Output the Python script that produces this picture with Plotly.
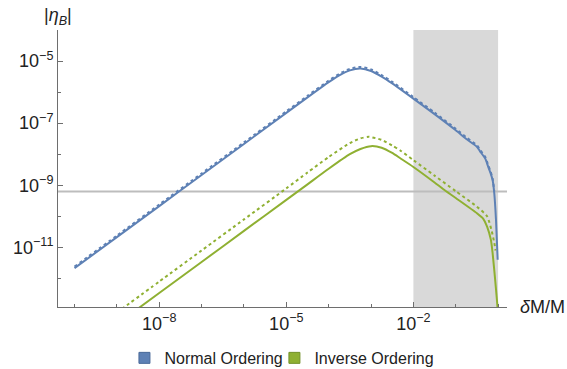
import numpy as np
import plotly.graph_objects as go

# Values (log10 of δM/M, log10 of |η_B|)
no_solid_logx = [-10.0, -9.0, -8.0, -7.0, -6.0, -5.0, -4.5, -4.0, -3.75, -3.5, -3.25, -3.0, -2.75, -2.5,
                 -2.0, -1.5, -1.0, -0.74, -0.5, -0.43, -0.3, -0.235, -0.18, -0.13, -0.09, -0.05, -0.01]
no_solid_logy = [-11.67, -10.67, -9.67, -8.67, -7.67, -6.67, -6.17, -5.68, -5.46, -5.30, -5.24, -5.32, -5.50, -5.72,
                 -6.21, -6.71, -7.23, -7.52, -7.76, -7.90, -8.15, -8.40, -8.60, -8.83, -9.26, -10.11, -11.40]

no_dot_logx = [-10.0, -9.0, -8.0, -7.0, -6.0, -5.0, -4.5, -4.0, -3.75, -3.5, -3.25, -3.0, -2.75, -2.5,
               -2.0, -1.5, -1.0, -0.74, -0.5, -0.43, -0.3, -0.235, -0.18, -0.13, -0.09]
no_dot_logy = [-11.62, -10.62, -9.62, -8.62, -7.62, -6.62, -6.12, -5.63, -5.41, -5.25, -5.19, -5.27, -5.45, -5.67,
               -6.16, -6.66, -7.18, -7.47, -7.71, -7.85, -8.10, -8.35, -8.55, -8.78, -9.20]

io_solid_logx = [-8.6, -8.0, -7.0, -6.0, -5.0, -4.5, -4.0, -3.5, -3.25, -3.0, -2.75, -2.5, -2.31,
                 -2.0, -1.5, -1.3, -1.0, -0.5, -0.35, -0.26, -0.17, -0.13, -0.07, -0.015, -0.005]
io_solid_logy = [-13.07, -12.47, -11.47, -10.47, -9.47, -8.97, -8.47, -8.00, -7.83, -7.74, -7.79, -7.96, -8.13,
                 -8.41, -8.91, -9.12, -9.41, -9.90, -10.08, -10.33, -10.76, -11.18, -12.04, -12.92, -13.30]

io_dot_logx = [-9.0, -8.0, -7.0, -6.0, -5.0, -4.5, -4.0, -3.5, -3.25, -3.05, -2.75, -2.5, -2.31,
               -2.0, -1.5, -1.0, -0.5, -0.26, -0.15, -0.09, -0.06]
io_dot_logy = [-13.10, -12.10, -11.10, -10.10, -9.10, -8.59, -8.09, -7.64, -7.49, -7.44, -7.54, -7.72, -7.88,
               -8.19, -8.69, -9.19, -9.69, -10.00, -10.48, -10.85, -11.10]

eta_obs = 6.3e-10
band_lo, band_hi = 1e-2, 1.0

x_tickvals = [1e-8, 1e-5, 1e-2]
x_ticktext = ["10<sup>−8</sup>", "10<sup>−5</sup>", "10<sup>−2</sup>"]
x_minor = [1e-10, 1e-9, 1e-7, 1e-6, 1e-4, 1e-3, 1e-1, 1e0]
y_tickvals = [1e-11, 1e-9, 1e-7, 1e-5]
y_ticktext = ["10<sup>−11</sup>", "10<sup>−9</sup>", "10<sup>−7</sup>", "10<sup>−5</sup>"]
y_minor = [1e-12, 1e-10, 1e-8, 1e-6]

BLUE = "#5e81b5"
GREEN = "#8fb032"
FONT = "Liberation Sans, Arial, sans-serif"

def p10(a):
    return np.power(10.0, np.array(a))

fig = go.Figure()
line_kw = dict(shape="spline", smoothing=0.6)
fig.add_trace(go.Scatter(x=p10(io_dot_logx), y=p10(io_dot_logy), mode="lines",
                         line=dict(color=GREEN, width=2, dash="dot", **line_kw), showlegend=False))
fig.add_trace(go.Scatter(x=p10(io_solid_logx), y=p10(io_solid_logy), mode="lines",
                         line=dict(color=GREEN, width=2, **line_kw), showlegend=False))
fig.add_trace(go.Scatter(x=p10(no_dot_logx), y=p10(no_dot_logy), mode="lines",
                         line=dict(color=BLUE, width=2, dash="dot", **line_kw), showlegend=False))
fig.add_trace(go.Scatter(x=p10(no_solid_logx), y=p10(no_solid_logy), mode="lines",
                         line=dict(color=BLUE, width=2, **line_kw), showlegend=False))
# legend entries
fig.add_trace(go.Scatter(x=[None], y=[None], mode="markers", name="Normal Ordering", legend="legend",
                         marker=dict(symbol="square", size=11, color=BLUE, line=dict(color="#4a6a99", width=1))))
fig.add_trace(go.Scatter(x=[None], y=[None], mode="markers", name="Inverse Ordering", legend="legend2",
                         marker=dict(symbol="square", size=11, color=GREEN, line=dict(color="#73912a", width=1))))

fig.add_shape(type="rect", xref="x", yref="paper", x0=band_lo, x1=band_hi, y0=0, y1=1,
              fillcolor="#d9d9d9", line=dict(width=0), layer="below")
fig.add_shape(type="line", xref="paper", yref="y", x0=0, x1=1, y0=eta_obs, y1=eta_obs,
              line=dict(color="#bdbdbd", width=2), layer="below")

axis_common = dict(showline=True, linecolor="#6e6e6e", linewidth=1, ticks="inside", ticklen=5,
                   tickcolor="#6e6e6e", showgrid=False, zeroline=False, automargin=False,
                   tickfont=dict(family=FONT, size=18, color="#222222"))
fig.update_xaxes(type="log", range=[-10.39, 0.21], tickvals=x_tickvals, ticktext=x_ticktext,
                 minor=dict(tickvals=x_minor, ticks="inside", ticklen=3, tickcolor="#6e6e6e"), **axis_common)
fig.update_yaxes(type="log", range=[-12.92, -4.0], tickvals=y_tickvals, ticktext=y_ticktext,
                 minor=dict(tickvals=y_minor, ticks="inside", ticklen=3, tickcolor="#6e6e6e"), **axis_common)

fig.add_annotation(text="|<i>η</i><sub><i>B</i></sub>|", xref="paper", yref="paper", x=0, y=1.047,
                   xanchor="center", yanchor="middle", showarrow=False,
                   font=dict(family=FONT, size=18, color="#222222"))
fig.add_annotation(text="<i>δ</i>M/M", xref="paper", yref="paper", x=1.0245, y=0,
                   xanchor="left", yanchor="middle", showarrow=False,
                   font=dict(family=FONT, size=18, color="#222222"))

legend_common = dict(orientation="h", y=-0.184, yanchor="middle", xanchor="left",
                     font=dict(family=FONT, size=16, color="#222222"), itemwidth=30,
                     bgcolor="rgba(0,0,0,0)")
fig.update_layout(width=567, height=369, margin=dict(l=58, r=60, t=30, b=62, autoexpand=False),
                  plot_bgcolor="white", paper_bgcolor="white",
                  legend=dict(x=0.148, **legend_common),
                  legend2=dict(x=0.482, **legend_common))
fig.write_html("out.html", config={"displayModeBar": False},
               post_script="document.body.style.margin='0';document.body.style.overflow='hidden';")
